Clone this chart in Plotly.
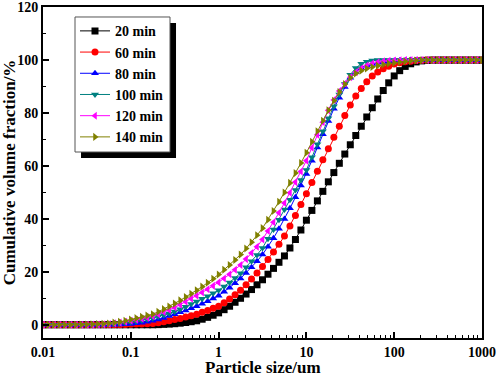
import plotly.graph_objects as go

# Particle size (um)
sizes = [
    0.01, 0.01155, 0.01334, 0.0154, 0.01778, 0.02054, 0.02371, 0.02738,
    0.03162, 0.03652, 0.04217, 0.0487, 0.05623, 0.06494, 0.07499, 0.0866,
    0.1, 0.1155, 0.1334, 0.154, 0.1778, 0.2054, 0.2371, 0.2738,
    0.3162, 0.3652, 0.4217, 0.487, 0.5623, 0.6494, 0.7499, 0.866,
    1, 1.155, 1.334, 1.54, 1.778, 2.054, 2.371, 2.738,
    3.162, 3.652, 4.217, 4.87, 5.623, 6.494, 7.499, 8.66,
    10, 11.55, 13.34, 15.4, 17.78, 20.54, 23.71, 27.38,
    31.62, 36.52, 42.17, 48.7, 56.23, 64.94, 74.99, 86.6,
    100, 115.5, 133.4, 154, 177.8, 205.4, 237.1, 273.8,
    316.2, 365.2, 421.7, 487, 562.3, 649.4, 749.9, 866,
    1000,
]

min20 = [
    0, 0, 0, 0, 0, 0, 0, 0,
    0, 0, 0, 0, 0, 0, 0, 0,
    0, 0, 0, 0, 0, 0.05, 0.15, 0.25,
    0.4, 0.6, 0.85, 1.15, 1.5, 2.1, 2.8, 3.6,
    4.5, 5.7, 7.0, 8.5, 10.0, 11.6, 13.3, 15.1,
    17.0, 19.1, 21.3, 23.6, 26.0, 29.0, 32.2, 35.8,
    39.5, 43.2, 46.8, 50.4, 54.0, 57.5, 61.0, 64.5,
    68.0, 71.5, 75.0, 78.5, 82.0, 85.3, 88.5, 91.4,
    94.0, 96.0, 97.6, 98.6, 99.3, 99.7, 99.9, 100,
    100, 100, 100, 100, 100, 100, 100, 100,
    100,
]

min60 = [
    0, 0, 0, 0, 0, 0, 0, 0,
    0, 0, 0, 0, 0, 0, 0.05, 0.1,
    0.15, 0.25, 0.3, 0.4, 0.5, 0.8, 1.1, 1.5,
    2.0, 2.4, 2.9, 3.4, 4.0, 4.7, 5.4, 6.2,
    7.0, 8.3, 9.7, 11.3, 13.0, 15.1, 17.3, 19.6,
    22.0, 24.7, 27.5, 30.4, 33.5, 37.3, 41.3, 45.4,
    49.5, 53.7, 58.0, 62.3, 66.5, 70.8, 75.0, 79.1,
    83.0, 86.4, 89.3, 91.8, 94.0, 95.5, 96.7, 97.7,
    98.5, 99.0, 99.4, 99.6, 99.8, 99.9, 100, 100,
    100, 100, 100, 100, 100, 100, 100, 100,
    100,
]

min80 = [
    0, 0, 0, 0, 0, 0, 0, 0,
    0, 0, 0, 0, 0, 0.05, 0.1, 0.2,
    0.3, 0.55, 0.8, 1.1, 1.5, 2.0, 2.6, 3.3,
    4.0, 4.7, 5.4, 6.2, 7.0, 7.9, 8.9, 9.9,
    11.0, 12.5, 14.0, 15.7, 17.5, 19.6, 21.7, 24.0,
    26.5, 29.5, 32.7, 36.3, 40.0, 44.0, 48.2, 52.6,
    57.0, 62.0, 67.0, 72.0, 77.0, 81.6, 85.8, 89.8,
    93.3, 95.5, 97.0, 97.9, 98.5, 99.0, 99.3, 99.5,
    99.7, 99.8, 99.9, 100, 100, 100, 100, 100,
    100, 100, 100, 100, 100, 100, 100, 100,
    100,
]

min100 = [
    0, 0, 0, 0, 0, 0, 0, 0,
    0, 0, 0, 0.05, 0.15, 0.3, 0.5, 0.75,
    1.0, 1.35, 1.7, 2.1, 2.5, 3.1, 3.7, 4.3,
    5.0, 5.9, 6.8, 7.8, 8.8, 9.8, 10.8, 11.9,
    13.0, 14.5, 16.0, 17.7, 19.5, 21.7, 24.0, 26.4,
    29.0, 32.5, 36.0, 39.7, 43.5, 47.2, 50.9, 54.7,
    58.5, 63.3, 68.2, 73.1, 78.0, 82.6, 87.0, 91.0,
    94.5, 97.0, 98.6, 99.4, 99.8, 100, 100, 100,
    100, 100, 100, 100, 100, 100, 100, 100,
    100, 100, 100, 100, 100, 100, 100, 100,
    100,
]

min120 = [
    0, 0, 0, 0, 0, 0, 0, 0,
    0, 0.05, 0.1, 0.2, 0.3, 0.55, 0.8, 1.15,
    1.5, 1.9, 2.3, 2.7, 3.2, 4.0, 4.8, 5.6,
    6.5, 7.6, 8.7, 9.8, 11.0, 12.2, 13.4, 14.7,
    16.0, 17.5, 19.1, 20.8, 22.6, 24.8, 27.1, 29.5,
    32.2, 35.4, 38.7, 42.3, 46.0, 49.9, 53.9, 57.9,
    62.0, 66.9, 71.8, 76.5, 81.0, 84.9, 88.3, 91.1,
    93.5, 95.4, 96.8, 97.9, 98.7, 99.2, 99.5, 99.7,
    99.8, 99.9, 100, 100, 100, 100, 100, 100,
    100, 100, 100, 100, 100, 100, 100, 100,
    100,
]

min140 = [
    0, 0, 0, 0, 0, 0, 0, 0.05,
    0.1, 0.2, 0.3, 0.4, 0.5, 0.8, 1.1, 1.5,
    2.0, 2.5, 3.0, 3.5, 4.0, 4.9, 5.9, 6.9,
    8.0, 9.2, 10.5, 11.7, 13.0, 14.4, 15.9, 17.4,
    19.0, 20.8, 22.6, 24.5, 26.5, 28.8, 31.2, 33.8,
    36.5, 39.7, 43.0, 46.5, 50.0, 53.6, 57.3, 61.1,
    65.0, 69.1, 73.1, 77.1, 81.0, 84.6, 87.9, 90.9,
    93.3, 94.9, 96.0, 96.8, 97.4, 97.9, 98.3, 98.7,
    99.0, 99.3, 99.5, 99.7, 99.8, 99.9, 100, 100,
    100, 100, 100, 100, 100, 100, 100, 100,
    100,
]

series_names = ["20 min", "60 min", "80 min", "100 min", "120 min", "140 min"]
series_values = [min20, min60, min80, min100, min120, min140]
colors = ["#000000", "#FF0000", "#0000FF", "#008080", "#FF00FF", "#808000"]
symbols = ["square", "circle", "triangle-up", "triangle-down", "triangle-left", "triangle-right"]

x_tickvals = [0.01, 0.1, 1, 10, 100, 1000]
x_ticktext = ["0.01", "0.1", "1", "10", "100", "1000"]
y_tickvals = [0, 20, 40, 60, 80, 100, 120]

FONT = "Times New Roman, Liberation Serif, serif"

fig = go.Figure()
for name, vals, col, sym in zip(series_names, series_values, colors, symbols):
    fig.add_trace(go.Scatter(
        x=sizes, y=vals, name=name, mode="lines+markers",
        line=dict(color=col, width=1),
        marker=dict(symbol=sym, color=col, size=7),
    ))

# legend shadow and legend frame drawn as shapes
fig.add_shape(type="rect", xref="paper", yref="paper",
              x0=0.0866, x1=0.3030, y0=0.5438, y1=0.9517,
              fillcolor="black", line=dict(width=0), layer="above")
fig.add_shape(type="rect", xref="paper", yref="paper",
              x0=0.0729, x1=0.2893, y0=0.5619, y1=0.9698,
              fillcolor="white", line=dict(color="#555555", width=1), layer="above")

axis_common = dict(
    showline=True, linecolor="black", linewidth=2, mirror=True,
    showgrid=False, zeroline=False,
    ticks="inside", ticklen=6, tickwidth=1.5, tickcolor="black",
    tickfont=dict(family=FONT, size=14, color="black", weight="bold"),
    automargin=False,
)

fig.update_xaxes(
    type="log", range=[-2, 3],
    tickvals=x_tickvals, ticktext=x_ticktext,
    minor=dict(ticks="inside", ticklen=3, tickwidth=1, tickcolor="black",
               dtick="D1", showgrid=False),
    **axis_common,
)
fig.update_yaxes(
    range=[-5, 120.05],
    tickvals=y_tickvals,
    minor=dict(ticks="inside", ticklen=3, tickwidth=1, tickcolor="black",
               dtick=10, showgrid=False),
    title=dict(text="Cumulative volume fraction/%", standoff=2,
               font=dict(family=FONT, size=17, color="black", weight="bold")),
    **axis_common,
)

# x-axis title as an annotation below the tick labels
fig.add_annotation(
    text="Particle size/um", xref="paper", yref="paper",
    x=0.5, y=-0.088, xanchor="center", yanchor="middle", showarrow=False,
    font=dict(family=FONT, size=17, color="black", weight="bold"),
)

fig.update_layout(
    width=498, height=375,
    margin=dict(l=43, r=16, t=7, b=37),
    paper_bgcolor="white", plot_bgcolor="white",
    font=dict(family=FONT, color="black"),
    showlegend=True,
    legend=dict(
        x=0.0729, y=0.975, xanchor="left", yanchor="top",
        bgcolor="rgba(0,0,0,0)", borderwidth=0,
        font=dict(family=FONT, size=14, color="black", weight="bold"),
        tracegroupgap=0,
    ),
)

fig.write_html("out.html", config={"displayModeBar": False},
               post_script="document.body.style.margin='0px';document.body.style.overflow='hidden';")
